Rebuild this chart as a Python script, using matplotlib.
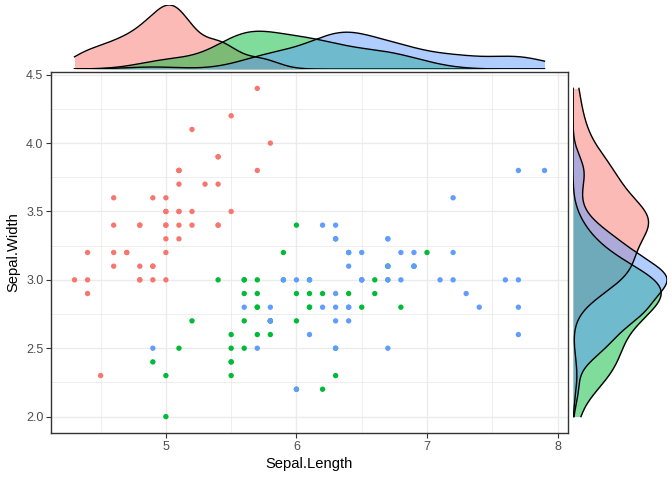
import numpy as np
import matplotlib
matplotlib.use('Agg')
import matplotlib.pyplot as plt

plt.rcParams['font.family'] = ['Liberation Sans', 'DejaVu Sans']

# iris sepal measurements, per species
setosa_len = [5.1,4.9,4.7,4.6,5.0,5.4,4.6,5.0,4.4,4.9,5.4,4.8,4.8,4.3,5.8,5.7,5.4,5.1,5.7,5.1,
              5.4,5.1,4.6,5.1,4.8,5.0,5.0,5.2,5.2,4.7,4.8,5.4,5.2,5.5,4.9,5.0,5.5,4.9,4.4,5.1,
              5.0,4.5,4.4,5.0,5.1,4.8,5.1,4.6,5.3,5.0]
setosa_wid = [3.5,3.0,3.2,3.1,3.6,3.9,3.4,3.4,2.9,3.1,3.7,3.4,3.0,3.0,4.0,4.4,3.9,3.5,3.8,3.8,
              3.4,3.7,3.6,3.3,3.4,3.0,3.4,3.5,3.4,3.2,3.1,3.4,4.1,4.2,3.1,3.2,3.5,3.6,3.0,3.4,
              3.5,2.3,3.2,3.5,3.8,3.0,3.8,3.2,3.7,3.3]
versi_len = [7.0,6.4,6.9,5.5,6.5,5.7,6.3,4.9,6.6,5.2,5.0,5.9,6.0,6.1,5.6,6.7,5.6,5.8,6.2,5.6,
             5.9,6.1,6.3,6.1,6.4,6.6,6.8,6.7,6.0,5.7,5.5,5.5,5.8,6.0,5.4,6.0,6.7,6.3,5.6,5.5,
             5.5,6.1,5.8,5.0,5.6,5.7,5.7,6.2,5.1,5.7]
versi_wid = [3.2,3.2,3.1,2.3,2.8,2.8,3.3,2.4,2.9,2.7,2.0,3.0,2.2,2.9,2.9,3.1,3.0,2.7,2.2,2.5,
             3.2,2.8,2.5,2.8,2.9,3.0,2.8,3.0,2.9,2.6,2.4,2.4,2.7,2.7,3.0,3.4,3.1,2.3,3.0,2.5,
             2.6,3.0,2.6,2.3,2.7,3.0,2.9,2.9,2.5,2.8]
virg_len = [6.3,5.8,7.1,6.3,6.5,7.6,4.9,7.3,6.7,7.2,6.5,6.4,6.8,5.7,5.8,6.4,6.5,7.7,7.7,6.0,
            6.9,5.6,7.7,6.3,6.7,7.2,6.2,6.1,6.4,7.2,7.4,7.9,6.4,6.3,6.1,7.7,6.3,6.4,6.0,6.9,
            6.7,6.9,5.8,6.8,6.7,6.7,6.3,6.5,6.2,5.9]
virg_wid = [3.3,2.7,3.0,2.9,3.0,3.0,2.5,2.9,2.5,3.6,3.2,2.7,3.0,2.5,2.8,3.2,3.0,3.8,2.6,2.2,
            3.2,2.8,2.8,2.7,3.3,3.2,2.8,3.0,2.8,3.0,2.8,3.8,2.8,2.8,2.6,3.0,3.4,3.1,3.0,3.1,
            3.1,3.1,2.7,3.2,3.3,3.0,2.5,3.0,3.4,3.0]

groups = [(setosa_len, setosa_wid, '#F8766D'),
          (versi_len, versi_wid, '#00BA38'),
          (virg_len, virg_wid, '#619CFF')]


def kde(vals, lo, hi):
    v = np.asarray(vals)
    q1, q3 = np.percentile(v, [25, 75])
    bw = 0.9 * min(v.std(ddof=1), (q3 - q1) / 1.34) * len(v) ** -0.2
    g = np.linspace(lo, hi, 512)
    d = np.exp(-0.5 * ((g[:, None] - v[None, :]) / bw) ** 2).sum(1) / (len(v) * bw * np.sqrt(2 * np.pi))
    return g, d


all_len = setosa_len + versi_len + virg_len
all_wid = setosa_wid + versi_wid + virg_wid
xlim = (min(all_len) - 0.05 * (max(all_len) - min(all_len)), max(all_len) + 0.05 * (max(all_len) - min(all_len)))
ylim = (min(all_wid) - 0.05 * (max(all_wid) - min(all_wid)), max(all_wid) + 0.05 * (max(all_wid) - min(all_wid)))

W, H = 672, 480
fig = plt.figure(figsize=(W / 100, H / 100), dpi=100)
ax = fig.add_axes([51 / W, (H - 433) / H, 517 / W, 361 / H])
axt = fig.add_axes([51 / W, (H - 69) / H, 517 / W, 64 / H])
axr = fig.add_axes([573 / W, (H - 433) / H, 94 / W, 361 / H])

grid_c = '#EBEBEB'
ax.set_xlim(xlim)
ax.set_ylim(ylim)
ax.set_xticks([5, 6, 7, 8])
ax.set_xticklabels(['5', '6', '7', '8'])
ax.set_yticks([2.0, 2.5, 3.0, 3.5, 4.0, 4.5])
ax.set_yticklabels(['2.0', '2.5', '3.0', '3.5', '4.0', '4.5'])
ax.set_xticks([4.5, 5.5, 6.5, 7.5], minor=True)
ax.set_yticks([2.25, 2.75, 3.25, 3.75, 4.25], minor=True)
ax.grid(True, which='major', color=grid_c, lw=1.0, zorder=0)
ax.grid(True, which='minor', color=grid_c, lw=0.6, zorder=0)
ax.set_axisbelow(True)
ax.tick_params(which='major', length=3.5, width=0.8, color='#333333', labelcolor='#4D4D4D',
               labelsize=9, pad=2)
ax.tick_params(which='minor', length=0)
for s in ax.spines.values():
    s.set_color('#333333')
    s.set_linewidth(1.0)
ax.set_xlabel('Sepal.Length', fontsize=10.6, labelpad=3)
ax.set_ylabel('Sepal.Width', fontsize=10.6, labelpad=4)

for lens, wids, col in groups:
    ax.scatter(lens, wids, s=15, color=col, edgecolors='none', zorder=3)

# marginal densities
tops = []
rights = []
for lens, wids, col in groups:
    tops.append(kde(lens, min(all_len), max(all_len)))
    rights.append(kde(wids, min(all_wid), max(all_wid)))

for (g, d), (_, _, col) in zip(tops, groups):
    axt.fill_between(g, 0, d, color=col, alpha=0.5, lw=0)
    axt.plot(g, d, color='black', lw=1.0)
axt.set_xlim(xlim)
axt.set_ylim(0, max(d.max() for _, d in tops))
axt.axis('off')

for (g, d), (_, _, col) in zip(rights, groups):
    axr.fill_betweenx(g, 0, d, color=col, alpha=0.5, lw=0)
    axr.plot(d, g, color='black', lw=1.0)
axr.set_ylim(ylim)
axr.set_xlim(0, max(d.max() for _, d in rights))
axr.axis('off')

fig.savefig('out.png', dpi=100)
